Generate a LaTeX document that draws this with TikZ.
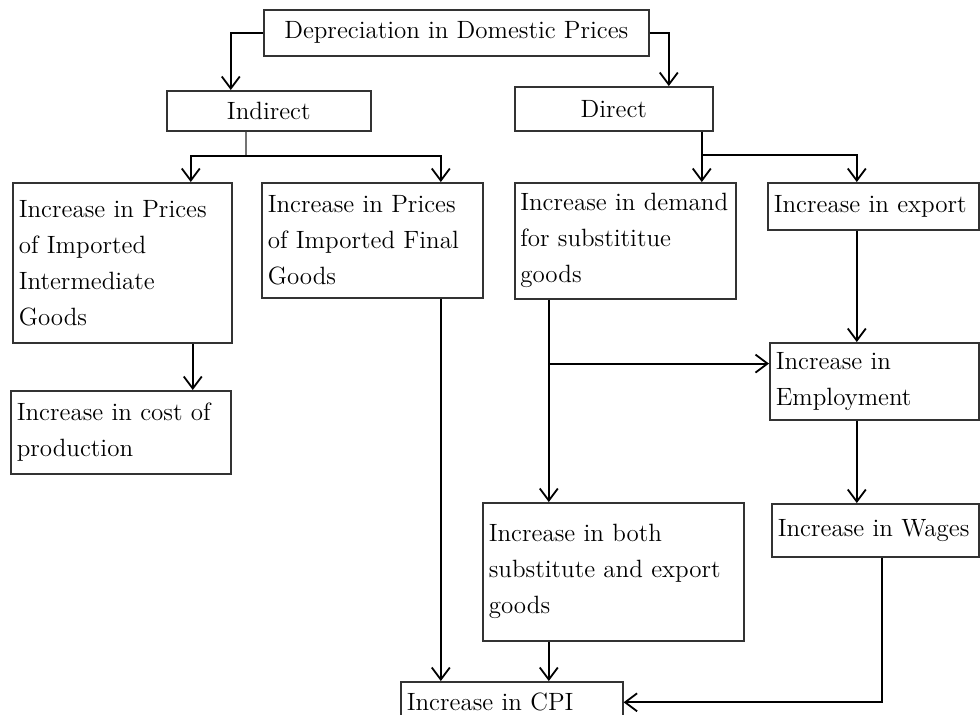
\documentclass[tikz,border=0pt]{standalone}
\usetikzlibrary{arrows.meta,positioning}

\begin{document}
\begin{tikzpicture}[x=0.5pt,y=-0.5pt,->,>={Straight Barb[length=6pt,width=9pt]},line width=0.9pt,
  box/.style={draw=black!80,line width=0.8pt,fill=white,rectangle,anchor=north west,
    inner xsep=3pt,inner ysep=0pt,font=\fontsize{12.5}{18}\selectfont},
  cbox/.style={box,align=center},
  lbox/.style={box,align=left}]
\useasboundingbox (0,0) rectangle (980,714);
\clip (0,0) rectangle (980,714);
% boxes
\node[cbox,minimum width=192.5pt,minimum height=23pt] (dep) at (263,9) {Depreciation in Domestic Prices};
\node[cbox,minimum width=102pt,minimum height=20pt] (indirect) at (166,90) {Indirect};
\node[cbox,minimum width=99pt,minimum height=22pt] (direct) at (514,86) {Direct};
\node[lbox,text width=103.5pt,minimum height=80pt] (impint) at (12,182) {Increase in Prices\\ of Imported\\ Intermediate\\ Goods};
\node[lbox,text width=104.5pt,minimum height=57.5pt] (impfin) at (261,182) {Increase in Prices\\ of Imported Final\\ Goods};
\node[lbox,text width=105pt,inner xsep=2.75pt,minimum height=58pt] (demand) at (514,182) {Increase in demand\\ for substititue\\ goods};
\node[lbox,text width=99.5pt,minimum height=23.5pt] (export) at (767,182) {Increase in export};
\node[lbox,text width=104pt,minimum height=41.5pt] (cost) at (10,390) {Increase in cost of\\ production};
\node[lbox,text width=98.5pt,minimum height=38.5pt] (employ) at (769,342) {Increase in\\ Employment};
\node[lbox,text width=124.5pt,minimum height=69pt] (both) at (482,502) {Increase in both\\ substitute and export\\ goods};
\node[lbox,text width=97.5pt,minimum height=26.5pt] (wages) at (771,503) {Increase in Wages};
\node[lbox,text width=105pt,minimum height=20.5pt] (cpi) at (400,681) {Increase in CPI};
% top level
\draw (dep.west) -| ([xshift=-19pt]indirect.north);
\draw (dep.east) -| ([xshift=27.5pt]direct.north);
% indirect branch
\draw[-,black!55] ([xshift=-11.5pt]indirect.south) -- ++(0,24) coordinate (isplit);
\draw (isplit) -| ([xshift=34.25pt]impint.north);
\draw (isplit) -| ([xshift=34.25pt]impfin.north);
% direct branch
\coordinate (dtop) at ([xshift=44pt]direct.south);
\coordinate (dsplit) at ([yshift=-11.5pt]dtop);
\draw (dtop) -- (dtop |- demand.north);
\draw (dsplit) -| ([xshift=-8.25pt]export.north);
% lower levels
\coordinate (pstem) at ([xshift=35.25pt]impint.south);
\draw (pstem) -- (pstem |- cost.north);
\coordinate (fstem) at ([xshift=34.25pt]impfin.south);
\draw (fstem) -- (fstem |- cpi.north);
\coordinate (dstem) at ([xshift=-38.25pt]demand.south);
\coordinate (dbranch) at ([yshift=-32pt]dstem);
\draw (dstem) -- (dstem |- both.north);
\draw (dbranch) -- (dbranch -| employ.west);
\coordinate (estem) at ([xshift=-8.25pt]export.south);
\draw (estem) -- (estem |- employ.north);
\coordinate (mstem) at ([xshift=-8.75pt]employ.south);
\draw (mstem) -- (mstem |- wages.north);
\coordinate (bstem) at ([xshift=-32.25pt]both.south);
\draw (bstem) -- (bstem |- cpi.north);
\draw ([xshift=3.25pt]wages.south) |- (cpi.east);
\end{tikzpicture}
\end{document}
